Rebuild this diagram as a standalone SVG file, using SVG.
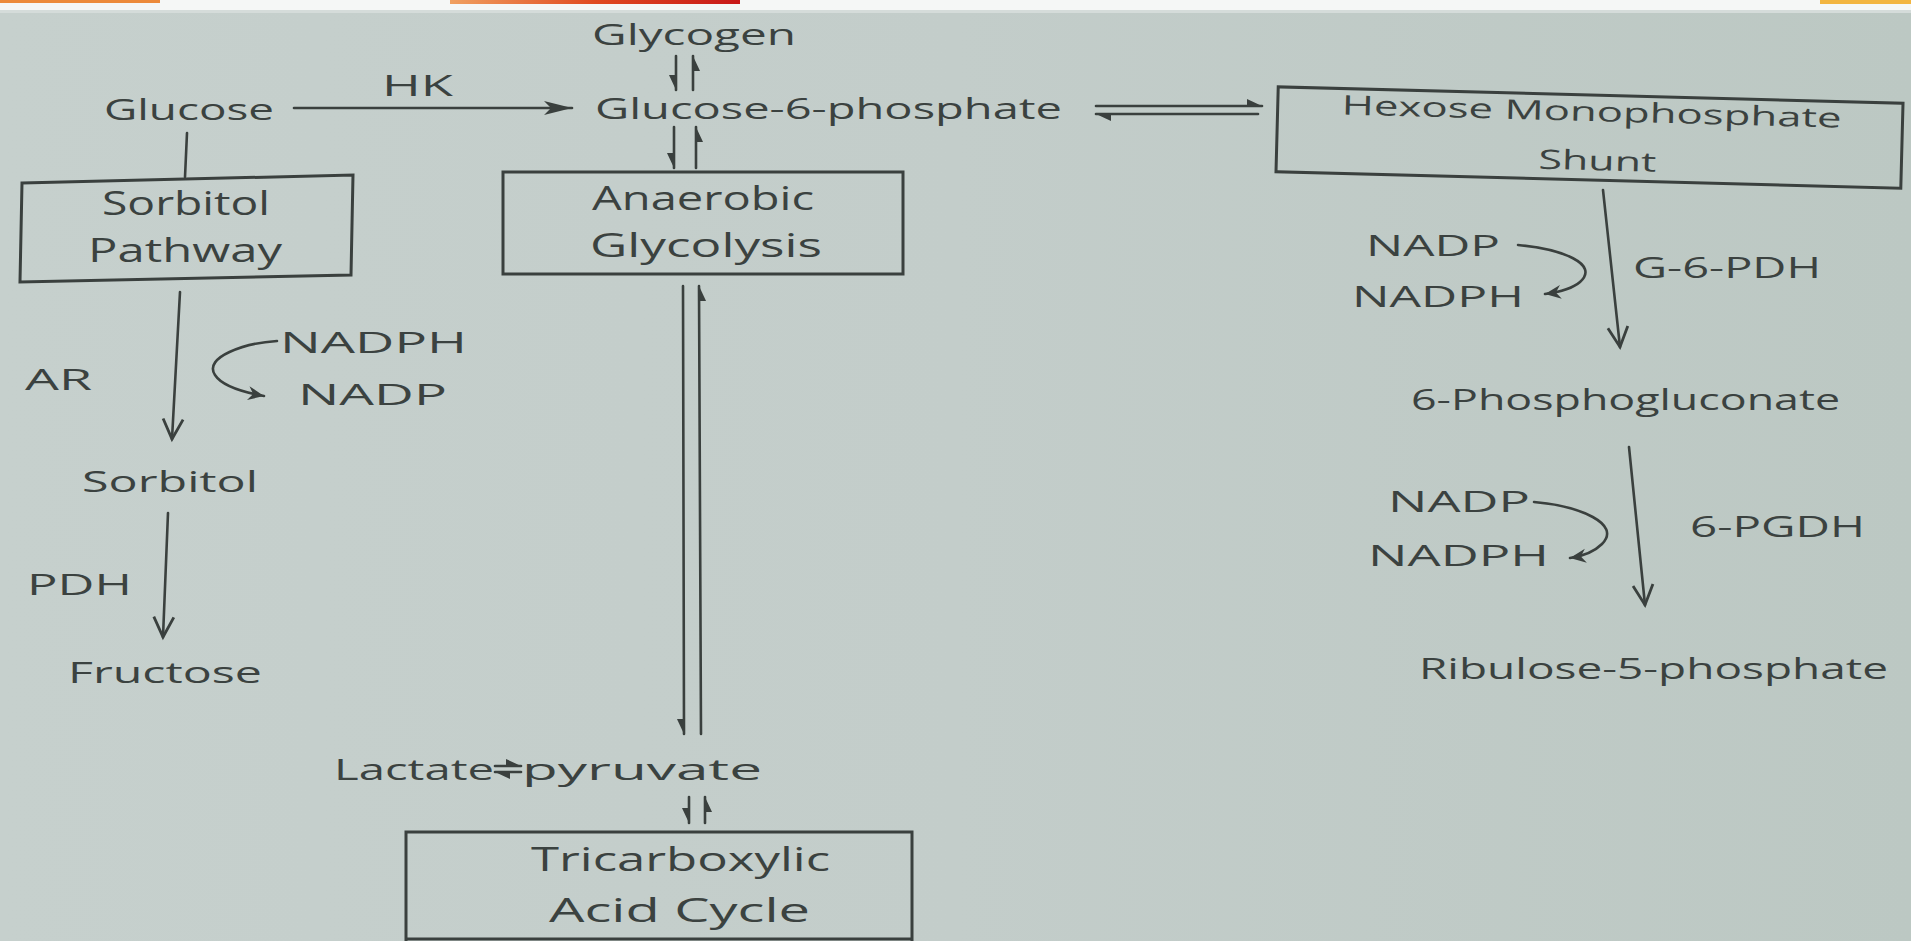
<svg xmlns="http://www.w3.org/2000/svg" width="1911" height="941" viewBox="0 0 1911 941">
<style>
.t{font-family:"Open Sans","Liberation Sans",sans-serif;fill:#3b4240;font-size:29px}
.b{font-size:32px}
.s{font-size:27px}
.box{fill:none;stroke:#3a403e;stroke-width:3}
.ln{fill:none;stroke:#3a403e;stroke-width:2.6;stroke-linecap:round}
</style>
<defs>
<linearGradient id="bg" x1="0" y1="0" x2="1" y2="0">
<stop offset="0" stop-color="#c6d0cd"/>
<stop offset="0.5" stop-color="#c3cdca"/>
<stop offset="1" stop-color="#bcc8c3"/>
</linearGradient>
<linearGradient id="red" x1="0" y1="0" x2="1" y2="0">
<stop offset="0" stop-color="#f0a060"/>
<stop offset="0.5" stop-color="#e04a20"/>
<stop offset="1" stop-color="#c81818"/>
</linearGradient>
<marker id="v" markerUnits="userSpaceOnUse" markerWidth="44" markerHeight="44" viewBox="-30 -22 44 44" refX="0" refY="0" orient="auto">
<path d="M-20,-10 L0,0 L-20,10" fill="none" stroke="#3a403e" stroke-width="2.8" stroke-linejoin="miter"/>
</marker>
<marker id="tri" markerUnits="userSpaceOnUse" markerWidth="44" markerHeight="44" viewBox="-34 -22 44 44" refX="0" refY="0" orient="auto">
<path d="M0,0 L-28,-7 L-21,0 L-28,7 z" fill="#3a403e"/>
</marker>
<marker id="sm" markerUnits="userSpaceOnUse" markerWidth="30" markerHeight="30" viewBox="-20 -15 30 30" refX="0" refY="0" orient="auto">
<path d="M0,0 L-16,-7 L-11,0 L-16,7 z" fill="#3a403e"/>
</marker>
<marker id="hr" markerUnits="userSpaceOnUse" markerWidth="30" markerHeight="30" viewBox="-20 -15 30 30" refX="0" refY="0" orient="auto">
<path d="M0,0 L-15,7 L-15,0 z" fill="#3a403e"/>
</marker>
<marker id="hl" markerUnits="userSpaceOnUse" markerWidth="30" markerHeight="30" viewBox="-20 -15 30 30" refX="0" refY="0" orient="auto">
<path d="M0,0 L-15,-7 L-15,0 z" fill="#3a403e"/>
</marker>
</defs>

<rect x="0" y="0" width="1911" height="941" fill="url(#bg)"/>
<rect x="0" y="0" width="1911" height="10" fill="#f5f7f6"/>
<rect x="0" y="10" width="1911" height="3" fill="#d5dcda"/>
<rect x="0" y="0" width="160" height="3" fill="#ec8a3a"/>
<rect x="450" y="0" width="290" height="4" fill="url(#red)"/>
<rect x="1820" y="0" width="91" height="4" fill="#f2b540"/>

<g id="connectors">
<line class="ln" x1="294" y1="108" x2="572" y2="108" marker-end="url(#tri)"/>
<line class="ln" x1="187" y1="133" x2="185" y2="177"/>
<line class="ln" x1="676" y1="56" x2="676" y2="90" marker-end="url(#hr)"/>
<line class="ln" x1="693" y1="90" x2="693" y2="56" marker-end="url(#hr)"/>
<line class="ln" x1="674" y1="127" x2="674" y2="168" marker-end="url(#hr)"/>
<line class="ln" x1="696" y1="168" x2="696" y2="127" marker-end="url(#hr)"/>
<line class="ln" x1="683" y1="286" x2="684" y2="734" marker-end="url(#hr)"/>
<line class="ln" x1="701" y1="734" x2="699" y2="286" marker-end="url(#hr)"/>
<line class="ln" x1="689" y1="797" x2="689" y2="823" marker-end="url(#hr)"/>
<line class="ln" x1="705" y1="823" x2="705" y2="797" marker-end="url(#hr)"/>
<line class="ln" x1="1096" y1="106" x2="1262" y2="106" marker-end="url(#hl)"/>
<line class="ln" x1="1258" y1="114" x2="1096" y2="114" marker-end="url(#hl)"/>
<line class="ln" x1="495" y1="766" x2="521" y2="766" stroke-width="2" marker-end="url(#hl)"/>
<line class="ln" x1="521" y1="772" x2="495" y2="772" stroke-width="2" marker-end="url(#hl)"/>
<line class="ln" x1="180" y1="292" x2="172" y2="439" marker-end="url(#v)"/>
<line class="ln" x1="168" y1="513" x2="163" y2="637" marker-end="url(#v)"/>
<path class="ln" d="M277,341 C245,343 203,357 215,375 C222,386 242,392 264,396" marker-end="url(#sm)"/>
<line class="ln" x1="1603" y1="190" x2="1620" y2="347" marker-end="url(#v)"/>
<path class="ln" d="M1518,245 C1562,249 1600,264 1580,282 C1572,289 1560,292 1545,294" marker-end="url(#sm)"/>
<line class="ln" x1="1629" y1="447" x2="1645" y2="605" marker-end="url(#v)"/>
<path class="ln" d="M1534,502 C1580,506 1622,524 1602,544 C1594,552 1584,556 1570,558" marker-end="url(#sm)"/>
</g>

<g id="glycogen"><text class="t" x="592" y="45" textLength="204" lengthAdjust="spacingAndGlyphs">Glycogen</text></g>
<g id="glucose"><text class="t" x="104" y="120" textLength="170" lengthAdjust="spacingAndGlyphs">Glucose</text></g>
<g id="hk"><text class="t" x="382" y="96" textLength="71" lengthAdjust="spacingAndGlyphs">HK</text></g>
<g id="g6p"><text class="t" x="595" y="119" textLength="467" lengthAdjust="spacingAndGlyphs">Glucose-6-phosphate</text></g>

<g id="hmp" transform="rotate(1.5 1589 138)">
<rect class="box" x="1277" y="95" width="625" height="85"/>
<text class="t s" x="1341" y="121" textLength="500" lengthAdjust="spacingAndGlyphs">Hexose Monophosphate</text>
<text class="t s" x="1539" y="170" textLength="118" lengthAdjust="spacingAndGlyphs">Shunt</text>
</g>

<g id="sorbitol-pathway">
<polygon class="box" points="22,183 353,175 351,275 20,282"/>
<text class="t b" x="102" y="215" textLength="168" lengthAdjust="spacingAndGlyphs">Sorbitol</text>
<text class="t b" x="88" y="262" textLength="194" lengthAdjust="spacingAndGlyphs">Pathway</text>
</g>

<g id="anaerobic">
<rect class="box" x="503" y="172" width="400" height="102"/>
<text class="t b" x="592" y="210" textLength="222" lengthAdjust="spacingAndGlyphs">Anaerobic</text>
<text class="t b" x="590" y="257" textLength="232" lengthAdjust="spacingAndGlyphs">Glycolysis</text>
</g>

<g id="ar"><text class="t" x="25" y="390" textLength="67" lengthAdjust="spacingAndGlyphs">AR</text></g>
<g id="nadph-1"><text class="t" x="280" y="353" textLength="187" lengthAdjust="spacingAndGlyphs">NADPH</text></g>
<g id="nadp-1"><text class="t" x="298" y="405" textLength="149" lengthAdjust="spacingAndGlyphs">NADP</text></g>
<g id="sorbitol"><text class="t" x="82" y="492" textLength="176" lengthAdjust="spacingAndGlyphs">Sorbitol</text></g>
<g id="pdh"><text class="t" x="27" y="595" textLength="105" lengthAdjust="spacingAndGlyphs">PDH</text></g>
<g id="fructose"><text class="t" x="68" y="683" textLength="194" lengthAdjust="spacingAndGlyphs">Fructose</text></g>

<g id="lactate"><text class="t" x="334" y="780" textLength="160" lengthAdjust="spacingAndGlyphs">Lactate</text></g>
<g id="pyruvate"><text class="t" x="522" y="780" textLength="240" lengthAdjust="spacingAndGlyphs">pyruvate</text></g>

<g id="tca">
<polyline class="box" points="406,941 406,832 912,832 912,941"/>
<line class="box" x1="406" y1="939" x2="912" y2="939"/>
<text class="t b" x="531" y="871" textLength="299" lengthAdjust="spacingAndGlyphs">Tricarboxylic</text>
<text class="t b" x="549" y="922" textLength="261" lengthAdjust="spacingAndGlyphs">Acid Cycle</text>
</g>

<g id="nadp-2"><text class="t" x="1366" y="256" textLength="134" lengthAdjust="spacingAndGlyphs">NADP</text></g>
<g id="nadph-2"><text class="t" x="1352" y="307" textLength="172" lengthAdjust="spacingAndGlyphs">NADPH</text></g>
<g id="g6pdh"><text class="t" x="1633" y="278" textLength="188" lengthAdjust="spacingAndGlyphs">G-6-PDH</text></g>
<g id="phosphogluconate"><text class="t" x="1411" y="410" textLength="429" lengthAdjust="spacingAndGlyphs">6-Phosphogluconate</text></g>
<g id="nadp-3"><text class="t" x="1388" y="512" textLength="142" lengthAdjust="spacingAndGlyphs">NADP</text></g>
<g id="nadph-3"><text class="t" x="1368" y="566" textLength="181" lengthAdjust="spacingAndGlyphs">NADPH</text></g>
<g id="pgdh"><text class="t" x="1690" y="537" textLength="175" lengthAdjust="spacingAndGlyphs">6-PGDH</text></g>
<g id="ribulose"><text class="t" x="1419" y="679" textLength="469" lengthAdjust="spacingAndGlyphs">Ribulose-5-phosphate</text></g>
</svg>
